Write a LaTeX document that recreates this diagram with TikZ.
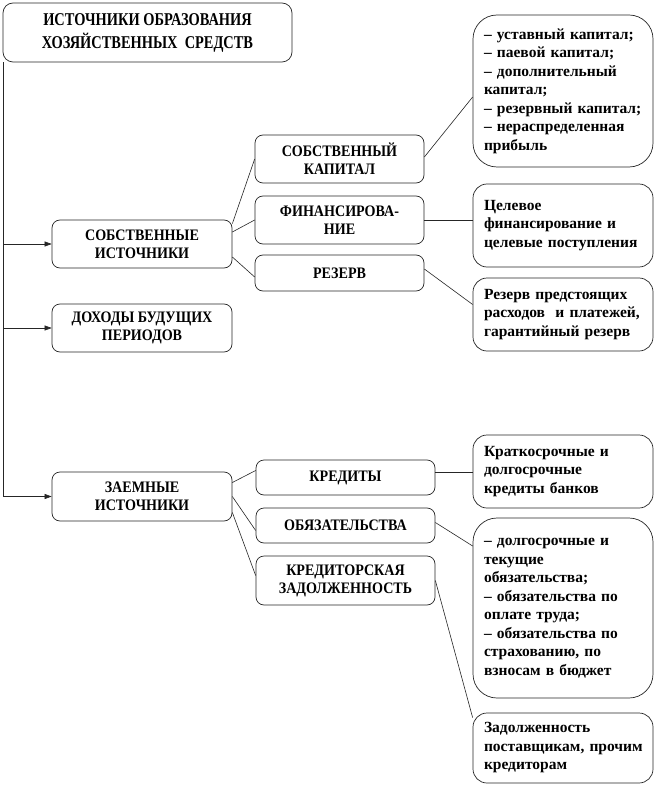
\documentclass[tikz,border=0pt]{standalone}
\usepackage{fontspec}
\setmainfont{Liberation Serif}
\newfontfamily\titlefont{Liberation Serif}[FakeStretch=0.8]
\newfontfamily\capsfont{Liberation Serif}[FakeStretch=0.88]
\usetikzlibrary{arrows.meta,calc}
\tikzset{
  box/.style={draw=black!85, line width=0.7pt, fill=white, rounded corners=8pt, inner sep=0pt, align=center},
  titlebox/.style={box, rounded corners=10pt, minimum width=289pt, minimum height=59pt,
    font=\titlefont\bfseries\fontsize{18}{23}\selectfont},
  capbox/.style={box, font=\capsfont\bfseries\fontsize{16}{18}\selectfont},
  rbox/.style={draw=black!85, line width=0.7pt, fill=white, rounded corners=14pt,
    minimum width=180pt, text width=158pt, inner xsep=11pt, inner ysep=0pt, align=left,
    font=\bfseries\fontsize{15.5}{18.5}\selectfont},
  link/.style={draw=black!85, line width=0.6pt},
  feed/.style={link, -{Triangle[length=7pt,width=5pt]}}
}
\begin{document}
\begin{tikzpicture}[x=1pt,y=-1pt]
\useasboundingbox[fill=white] (0,0) rectangle (655,786);

\node[titlebox] (title) at (147.5,32.5) {ИСТОЧНИКИ ОБРАЗОВАНИЯ\\ХОЗЯЙСТВЕННЫХ\ \ СРЕДСТВ};

\node[capbox, minimum width=180pt, minimum height=48pt] (ss) at (142,244) {СОБСТВЕННЫЕ\\ИСТОЧНИКИ};
\node[capbox, minimum width=180pt, minimum height=48pt] (dbp) at (142,328) {ДОХОДЫ БУДУЩИХ\\ПЕРИОДОВ};
\node[capbox, minimum width=180pt, minimum height=49pt] (zi) at (142,496.5) {ЗАЕМНЫЕ\\ИСТОЧНИКИ};

\node[capbox, minimum width=169pt, minimum height=48pt] (sk) at (339.5,159) {СОБСТВЕННЫЙ\\КАПИТАЛ};
\node[capbox, minimum width=169pt, minimum height=48pt] (fin) at (339.5,220) {ФИНАНСИРОВА-\\НИЕ};
\node[capbox, minimum width=169pt, minimum height=36pt] (rez) at (339.5,273) {РЕЗЕРВ};

\node[capbox, minimum width=179pt, minimum height=35pt] (kr) at (345.5,477.5) {КРЕДИТЫ};
\node[capbox, minimum width=179pt, minimum height=35pt] (ob) at (345.5,525.5) {ОБЯЗАТЕЛЬСТВА};
\node[capbox, minimum width=179pt, minimum height=49pt] (kz) at (345.5,580.5) {КРЕДИТОРСКАЯ\\ЗАДОЛЖЕННОСТЬ};

\node[rbox, rounded corners=24pt, minimum height=152pt] (r1) at (563,91)
  {– уставный~капитал;\\– паевой~капитал;\\– дополнительный\\капитал;\\– резервный~капитал;\\– нераспределенная\\прибыль};
\node[rbox, minimum height=83pt] (r2) at (563,225.5)
  {Целевое\\финансирование~и\\целевые~поступления};
\node[rbox, minimum height=73pt] (r3) at (563,314.5)
  {Резерв~предстоящих\\расходов~\ и~платежей,\\гарантийный~резерв};
\node[rbox, minimum height=73pt] (r4) at (563,471.5)
  {Краткосрочные~и\\долгосрочные\\кредиты~банков};
\node[rbox, rounded corners=24pt, minimum height=180pt] (r5) at (563,608)
  {– долгосрочные~и\\текущие\\обязательства;\\– обязательства~по\\оплате~труда;\\– обязательства~по\\страхованию,~по\\взносам~в~бюджет};
\node[rbox, minimum height=70pt] (r6) at (563,748)
  {Задолженность\\поставщикам,~прочим\\кредиторам};

% trunk with arrows
\coordinate (tb) at ($(title.south west)+(1,0)$);
\draw[feed] (tb) |- (zi.west);
\draw[feed] (tb |- ss.west) -- (ss.west);
\draw[feed] (tb |- dbp.west) -- (dbp.west);

% own sources
\draw[link] ($(ss.north east)+(0,4)$) -- (sk.west);
\draw[link] ($(ss.east)+(0,-12)$) -- (fin.west);
\draw[link] ($(ss.east)+(0,13)$) -- ($(rez.west)+(0,4)$);

\draw[link] ($(sk.east)+(0,-2)$) -- ($(r1.west)+(0,6)$);
\draw[link] (fin.east) -- (fin.east -| r2.west);
\draw[link] ($(rez.east)+(0,-4)$) -- ($(r3.west)+(0,-10)$);

% borrowed sources
\draw[link] ($(zi.east)+(0,-14)$) -- ($(kr.west)+(0,-7)$);
\draw[link] (zi.east) -- ($(ob.west)+(0,5)$);
\draw[link] ($(zi.east)+(0,16)$) -- ($(kz.west)+(0,-5)$);

\draw[link] ($(kr.east)+(0,-5)$) coordinate (kre) -- (kre -| r4.west);
\draw[link] ($(ob.east)+(0,-3)$) -- ($(r5.west)+(0,-62)$);
\draw[link] (kz.east) -- ($(r6.north west)+(0,5)$);
\end{tikzpicture}
\end{document}
